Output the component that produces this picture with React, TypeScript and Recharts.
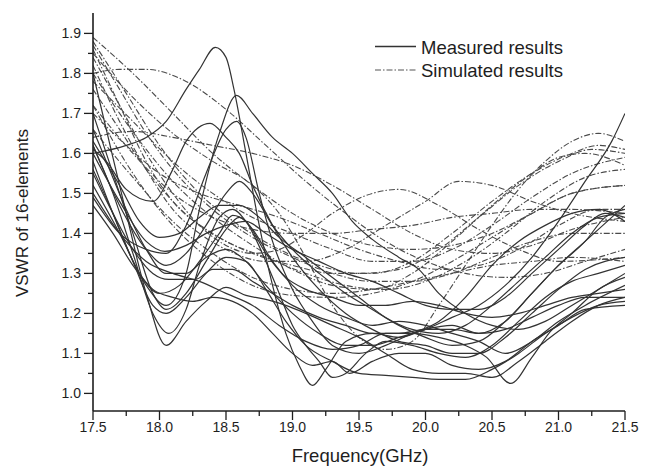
import React from 'react';
import { LineChart, Line, XAxis, YAxis, Customized } from 'recharts';

type Pt = [number, number];

// Measured VSWR curves: [frequency GHz, VSWR]
const measured01: Pt[] = [[17.5,1.60],[17.75,1.62],[17.9,1.64],[18.05,1.68],[18.2,1.76],[18.3,1.81],[18.42,1.865],[18.5,1.84],[18.56,1.76],[18.65,1.60],[18.75,1.42],[18.85,1.27],[18.95,1.15],[19.05,1.07],[19.15,1.02],[19.25,1.06],[19.4,1.13],[19.6,1.15],[19.8,1.14],[20.0,1.16],[20.2,1.17],[20.4,1.15],[20.6,1.18],[20.8,1.25],[21.0,1.32],[21.2,1.38],[21.35,1.44],[21.5,1.46]];
const measured02: Pt[] = [[17.5,1.52],[17.7,1.40],[17.9,1.27],[18.05,1.22],[18.2,1.30],[18.3,1.46],[18.45,1.65],[18.58,1.745],[18.7,1.70],[18.85,1.64],[19.0,1.60],[19.15,1.55],[19.3,1.50],[19.45,1.43],[19.6,1.385],[19.8,1.34],[19.95,1.31],[20.1,1.25],[20.3,1.20],[20.5,1.17],[20.7,1.16],[20.9,1.18],[21.1,1.22],[21.3,1.26],[21.5,1.30]];
const measured03: Pt[] = [[17.5,1.61],[17.6,1.58],[17.75,1.51],[17.95,1.48],[18.1,1.56],[18.2,1.63],[18.38,1.675],[18.5,1.64],[18.6,1.60],[18.7,1.52],[18.85,1.42],[19.0,1.34],[19.2,1.26],[19.4,1.20],[19.6,1.16],[19.8,1.13],[20.0,1.12],[20.2,1.10],[20.4,1.10],[20.6,1.14],[20.8,1.20],[21.0,1.26],[21.2,1.31],[21.5,1.34]];
const measured04: Pt[] = [[17.5,1.49],[17.7,1.40],[17.9,1.36],[18.05,1.35],[18.2,1.42],[18.35,1.55],[18.5,1.66],[18.58,1.68],[18.65,1.64],[18.75,1.50],[18.85,1.38],[19.0,1.26],[19.15,1.18],[19.3,1.12],[19.5,1.10],[19.7,1.12],[19.9,1.15],[20.1,1.18],[20.3,1.24],[20.5,1.32],[20.7,1.38],[20.9,1.42],[21.1,1.45],[21.3,1.46],[21.5,1.43]];
const measured05: Pt[] = [[17.5,1.80],[17.6,1.66],[17.75,1.45],[17.9,1.25],[18.05,1.12],[18.2,1.18],[18.35,1.23],[18.5,1.265],[18.65,1.245],[18.8,1.235],[18.95,1.22],[19.1,1.20],[19.3,1.17],[19.5,1.14],[19.7,1.10],[19.9,1.06],[20.1,1.05],[20.3,1.05],[20.5,1.04],[20.7,1.08],[20.9,1.13],[21.1,1.18],[21.3,1.22],[21.5,1.24]];
const measured06: Pt[] = [[17.5,1.62],[17.65,1.50],[17.8,1.35],[17.95,1.20],[18.07,1.15],[18.2,1.21],[18.3,1.32],[18.45,1.44],[18.55,1.46],[18.65,1.43],[18.8,1.33],[18.9,1.25],[19.0,1.17],[19.1,1.12],[19.2,1.08],[19.3,1.04],[19.4,1.05],[19.55,1.10],[19.7,1.13],[19.9,1.12],[20.1,1.10],[20.3,1.09],[20.5,1.12],[20.7,1.18],[20.9,1.24],[21.1,1.28],[21.3,1.30],[21.5,1.32]];
const measured07: Pt[] = [[17.5,1.70],[17.65,1.55],[17.8,1.40],[17.95,1.25],[18.05,1.21],[18.2,1.25],[18.35,1.33],[18.5,1.41],[18.6,1.44],[18.7,1.41],[18.85,1.33],[19.0,1.27],[19.2,1.22],[19.4,1.19],[19.6,1.17],[19.8,1.18],[20.0,1.17],[20.2,1.15],[20.4,1.13],[20.6,1.10],[20.8,1.13],[21.0,1.18],[21.2,1.22],[21.5,1.27]];
const measured08: Pt[] = [[17.5,1.58],[17.65,1.45],[17.85,1.30],[18.0,1.25],[18.15,1.27],[18.3,1.33],[18.45,1.40],[18.55,1.445],[18.65,1.43],[18.8,1.35],[18.95,1.29],[19.1,1.26],[19.3,1.24],[19.5,1.22],[19.7,1.22],[19.9,1.23],[20.1,1.22],[20.3,1.20],[20.5,1.19],[20.7,1.20],[20.9,1.22],[21.1,1.24],[21.3,1.25],[21.5,1.26]];
const measured09: Pt[] = [[17.5,1.55],[17.65,1.45],[17.8,1.36],[17.95,1.30],[18.07,1.285],[18.27,1.285],[18.4,1.31],[18.55,1.31],[18.7,1.28],[18.85,1.25],[19.0,1.22],[19.2,1.19],[19.4,1.17],[19.6,1.15],[19.8,1.15],[20.0,1.16],[20.2,1.16],[20.4,1.15],[20.6,1.16],[20.8,1.19],[21.0,1.22],[21.2,1.24],[21.5,1.24]];
const measured10: Pt[] = [[17.5,1.62],[17.7,1.47],[17.9,1.36],[18.05,1.32],[18.2,1.35],[18.35,1.42],[18.5,1.50],[18.6,1.53],[18.7,1.50],[18.85,1.42],[19.0,1.36],[19.2,1.30],[19.4,1.25],[19.6,1.21],[19.8,1.17],[20.0,1.14],[20.2,1.12],[20.4,1.13],[20.6,1.18],[20.8,1.25],[21.0,1.32],[21.2,1.38],[21.4,1.44],[21.5,1.47]];
const measured11: Pt[] = [[17.5,1.60],[17.7,1.48],[17.9,1.38],[18.04,1.355],[18.2,1.37],[18.35,1.40],[18.5,1.42],[18.65,1.43],[18.8,1.40],[19.0,1.36],[19.2,1.33],[19.4,1.30],[19.6,1.28],[19.8,1.25],[20.0,1.22],[20.2,1.21],[20.4,1.21],[20.6,1.24],[20.8,1.30],[21.0,1.36],[21.2,1.42],[21.35,1.45],[21.5,1.44]];
const measured12: Pt[] = [[17.5,1.63],[17.7,1.52],[17.85,1.43],[18.0,1.39],[18.15,1.40],[18.3,1.44],[18.45,1.47],[18.6,1.47],[18.75,1.44],[18.9,1.39],[19.1,1.34],[19.3,1.29],[19.5,1.24],[19.7,1.19],[19.9,1.16],[20.1,1.15],[20.3,1.17],[20.5,1.22],[20.7,1.28],[20.9,1.34],[21.1,1.40],[21.3,1.44],[21.5,1.45]];
const measured13: Pt[] = [[17.5,1.66],[17.6,1.58],[17.75,1.46],[17.9,1.36],[18.05,1.30],[18.2,1.30],[18.35,1.34],[18.5,1.36],[18.65,1.33],[18.8,1.27],[19.0,1.20],[19.2,1.15],[19.4,1.12],[19.6,1.12],[19.8,1.14],[20.0,1.16],[20.2,1.19],[20.4,1.22],[20.6,1.27],[20.8,1.34],[21.0,1.43],[21.2,1.53],[21.4,1.63],[21.5,1.70]];
const measured14: Pt[] = [[17.5,1.50],[17.7,1.40],[17.9,1.33],[18.1,1.30],[18.3,1.28],[18.5,1.25],[18.7,1.22],[18.9,1.17],[19.1,1.13],[19.3,1.11],[19.5,1.12],[19.7,1.15],[19.9,1.15],[20.1,1.14],[20.3,1.12],[20.46,1.09],[20.64,1.025],[20.8,1.09],[20.94,1.155],[21.1,1.20],[21.3,1.26],[21.5,1.29]];
const measured15: Pt[] = [[17.5,1.56],[17.65,1.45],[17.8,1.33],[17.95,1.22],[18.05,1.20],[18.2,1.24],[18.35,1.30],[18.5,1.34],[18.65,1.33],[18.8,1.26],[18.95,1.18],[19.1,1.12],[19.3,1.08],[19.5,1.05],[19.7,1.045],[19.9,1.04],[20.1,1.035],[20.3,1.035],[20.5,1.06],[20.7,1.10],[20.9,1.15],[21.1,1.19],[21.3,1.22],[21.5,1.23]];
const measured16: Pt[] = [[17.5,1.47],[17.65,1.40],[17.8,1.32],[17.95,1.26],[18.1,1.24],[18.25,1.23],[18.4,1.24],[18.55,1.23],[18.7,1.20],[18.85,1.15],[19.0,1.10],[19.15,1.07],[19.3,1.08],[19.43,1.05],[19.6,1.08],[19.8,1.10],[20.0,1.10],[20.2,1.07],[20.4,1.06],[20.6,1.08],[20.8,1.13],[21.0,1.17],[21.2,1.21],[21.5,1.22]];

// Simulated VSWR curves
const simulated01: Pt[] = [[17.5,1.89],[17.8,1.80],[18.1,1.70],[18.4,1.60],[18.7,1.52],[19.0,1.45],[19.3,1.40],[19.6,1.37],[19.9,1.36],[20.2,1.37],[20.5,1.40],[20.8,1.45],[21.1,1.50],[21.5,1.52]];
const simulated02: Pt[] = [[17.5,1.88],[17.75,1.75],[18.0,1.62],[18.3,1.50],[18.6,1.42],[18.9,1.36],[19.2,1.32],[19.5,1.30],[19.8,1.31],[20.1,1.36],[20.4,1.44],[20.7,1.52],[21.0,1.58],[21.25,1.61],[21.5,1.60]];
const simulated03: Pt[] = [[17.5,1.86],[17.7,1.72],[17.9,1.58],[18.1,1.48],[18.4,1.40],[18.7,1.35],[19.0,1.32],[19.3,1.30],[19.6,1.30],[19.9,1.33],[20.2,1.40],[20.5,1.48],[20.8,1.55],[21.1,1.60],[21.3,1.62],[21.5,1.61]];
const simulated04: Pt[] = [[17.5,1.80],[17.7,1.81],[17.9,1.81],[18.2,1.78],[18.5,1.71],[18.8,1.62],[19.1,1.53],[19.4,1.45],[19.7,1.38],[20.0,1.33],[20.3,1.30],[20.6,1.29],[20.9,1.30],[21.2,1.33],[21.5,1.36]];
const simulated05: Pt[] = [[17.5,1.78],[17.8,1.68],[18.1,1.58],[18.4,1.50],[18.7,1.44],[19.0,1.40],[19.3,1.36],[19.6,1.33],[19.9,1.33],[20.2,1.36],[20.5,1.42],[20.8,1.49],[21.1,1.55],[21.5,1.59]];
const simulated06: Pt[] = [[17.5,1.76],[17.7,1.66],[17.9,1.56],[18.1,1.48],[18.3,1.42],[18.5,1.38],[18.8,1.34],[19.1,1.30],[19.4,1.27],[19.7,1.26],[20.0,1.28],[20.3,1.33],[20.6,1.40],[20.9,1.48],[21.2,1.54],[21.5,1.56]];
const simulated07: Pt[] = [[17.5,1.70],[17.75,1.62],[18.0,1.55],[18.3,1.50],[18.6,1.47],[18.9,1.44],[19.2,1.40],[19.5,1.36],[19.8,1.33],[20.1,1.31],[20.4,1.32],[20.7,1.36],[21.0,1.42],[21.3,1.46],[21.5,1.46]];
const simulated08: Pt[] = [[17.5,1.64],[17.8,1.655],[18.1,1.64],[18.4,1.62],[18.7,1.60],[19.0,1.57],[19.3,1.52],[19.6,1.46],[19.9,1.40],[20.2,1.36],[20.5,1.35],[20.8,1.37],[21.1,1.41],[21.5,1.44]];
const simulated09: Pt[] = [[17.5,1.84],[17.7,1.72],[17.9,1.60],[18.1,1.50],[18.3,1.42],[18.5,1.37],[18.7,1.35],[18.9,1.36],[19.1,1.40],[19.3,1.45],[19.6,1.50],[19.8,1.51],[20.1,1.47],[20.4,1.41],[20.7,1.36],[21.0,1.33],[21.5,1.34]];
const simulated10: Pt[] = [[17.5,1.82],[17.7,1.68],[17.9,1.56],[18.1,1.46],[18.3,1.40],[18.5,1.36],[18.8,1.33],[19.1,1.33],[19.4,1.36],[19.7,1.42],[20.0,1.48],[20.25,1.53],[20.5,1.52],[20.8,1.48],[21.1,1.45],[21.5,1.43]];
const simulated11: Pt[] = [[17.5,1.85],[17.8,1.74],[18.1,1.65],[18.4,1.58],[18.7,1.52],[18.9,1.45],[19.1,1.34],[19.3,1.22],[19.5,1.14],[19.7,1.11],[19.9,1.13],[20.1,1.22],[20.3,1.32],[20.5,1.42],[20.7,1.51],[20.9,1.58],[21.1,1.63],[21.3,1.65],[21.5,1.63]];
const simulated12: Pt[] = [[17.5,1.72],[17.8,1.60],[18.1,1.50],[18.4,1.44],[18.7,1.41],[19.0,1.40],[19.3,1.40],[19.6,1.41],[19.9,1.42],[20.2,1.44],[20.5,1.45],[20.8,1.46],[21.1,1.46],[21.5,1.45]];
const simulated13: Pt[] = [[17.5,1.72],[17.8,1.55],[18.1,1.42],[18.4,1.33],[18.7,1.27],[19.0,1.245],[19.3,1.24],[19.6,1.25],[19.9,1.28],[20.2,1.33],[20.5,1.39],[20.8,1.45],[21.1,1.50],[21.5,1.52]];
const simulated14: Pt[] = [[17.5,1.87],[17.7,1.76],[17.9,1.65],[18.1,1.56],[18.4,1.46],[18.7,1.39],[19.0,1.34],[19.3,1.30],[19.6,1.28],[19.9,1.28],[20.2,1.30],[20.5,1.34],[20.8,1.38],[21.1,1.40],[21.5,1.40]];
const simulated15: Pt[] = [[17.5,1.80],[17.7,1.70],[17.9,1.61],[18.1,1.53],[18.4,1.44],[18.7,1.37],[19.0,1.31],[19.3,1.27],[19.6,1.26],[19.9,1.30],[20.2,1.38],[20.5,1.47],[20.8,1.55],[21.0,1.59],[21.2,1.60],[21.5,1.57]];
const simulated16: Pt[] = [[17.5,1.66],[17.8,1.54],[18.1,1.43],[18.4,1.35],[18.7,1.29],[19.0,1.26],[19.3,1.25],[19.6,1.26],[19.9,1.28],[20.2,1.30],[20.5,1.32],[20.8,1.33],[21.1,1.34],[21.5,1.33]];

const measuredSeries = [measured01, measured02, measured03, measured04, measured05, measured06, measured07, measured08, measured09, measured10, measured11, measured12, measured13, measured14, measured15, measured16];
const simulatedSeries = [simulated01, simulated02, simulated03, simulated04, simulated05, simulated06, simulated07, simulated08, simulated09, simulated10, simulated11, simulated12, simulated13, simulated14, simulated15, simulated16];

const xTicks = [17.5, 17.75, 18.0, 18.25, 18.5, 18.75, 19.0, 19.25, 19.5, 19.75, 20.0, 20.25, 20.5, 20.75, 21.0, 21.25, 21.5];
const yTicks = [1.0, 1.05, 1.1, 1.15, 1.2, 1.25, 1.3, 1.35, 1.4, 1.45, 1.5, 1.55, 1.6, 1.65, 1.7, 1.75, 1.8, 1.85, 1.9];

const xTitle = 'Frequency(GHz)';
const yTitle = 'VSWR of 16-elements';
const legendMeasured = 'Measured results';
const legendSimulated = 'Simulated results';

const FONT = '"Liberation Sans", Arial, Helvetica, sans-serif';
const INK = '#1e1e1e';
const DASH = '6 2 1.5 2';

const toRows = (pts: Pt[]) => pts.map(([f, v]) => ({ f, v }));

const XTick = (props: any) => {
  const { x, y, payload } = props;
  const v = payload.value as number;
  const major = Math.abs(v * 2 - Math.round(v * 2)) < 1e-6;
  return (
    <g>
      <line x1={x} x2={x} y1={y} y2={y + (major ? 9 : 5)} stroke={INK} strokeWidth={1.3} />
      {major && (
        <text x={x} y={y + 21} textAnchor="middle" fontFamily={FONT} fontSize={14} fill={INK}>
          {v.toFixed(1)}
        </text>
      )}
    </g>
  );
};

const YTick = (props: any) => {
  const { x, y, payload } = props;
  const v = payload.value as number;
  const major = Math.abs(v * 10 - Math.round(v * 10)) < 1e-6;
  return (
    <g>
      <line x1={x} x2={x - (major ? 9 : 5)} y1={y} y2={y} stroke={INK} strokeWidth={1.3} />
      {major && (
        <text x={x - 12} y={y + 5} textAnchor="end" fontFamily={FONT} fontSize={14} fill={INK}>
          {v.toFixed(1)}
        </text>
      )}
    </g>
  );
};

const Decorations = () => (
  <g>
    <text x={0} y={0} transform="translate(28,213) rotate(-90)" textAnchor="middle" fontFamily={FONT} fontSize={17} fill={INK}>
      {yTitle}
    </text>
    <text x={360} y={462} textAnchor="middle" fontFamily={FONT} fontSize={18.5} fill={INK}>
      {xTitle}
    </text>
    <line x1={375} x2={416} y1={46.5} y2={46.5} stroke="#333" strokeWidth={1.3} />
    <text x={421} y={53.5} fontFamily={FONT} fontSize={18.5} fill={INK}>
      {legendMeasured}
    </text>
    <line x1={375} x2={416} y1={70} y2={70} stroke="#555" strokeWidth={1.1} strokeDasharray={DASH} />
    <text x={421} y={77} fontFamily={FONT} fontSize={18.5} fill={INK}>
      {legendSimulated}
    </text>
  </g>
);

export default function App() {
  return (
    <div style={{ position: 'absolute', left: 0, top: 0, width: 652, height: 469, background: '#fff' }}>
      <LineChart width={652} height={469} margin={{ top: 13, right: 27, bottom: 0, left: 0 }}>
        <XAxis
          xAxisId="main"
          type="number"
          dataKey="f"
          domain={[17.5, 21.5]}
          ticks={xTicks}
          interval={0}
          allowDataOverflow
          height={58}
          tickSize={0}
          tickMargin={0}
          tickLine={false}
          axisLine={{ stroke: INK, strokeWidth: 1.6 }}
          tick={(p: any) => <XTick {...p} />}
        />
        <XAxis
          xAxisId="top"
          orientation="top"
          type="number"
          domain={[17.5, 21.5]}
          height={0}
          tick={false}
          tickLine={false}
          axisLine={{ stroke: INK, strokeWidth: 1.6 }}
        />
        <YAxis
          yAxisId="main"
          type="number"
          domain={[0.956, 1.951]}
          ticks={yTicks}
          interval={0}
          allowDataOverflow
          width={93}
          tickSize={0}
          tickMargin={0}
          tickLine={false}
          axisLine={{ stroke: INK, strokeWidth: 1.6 }}
          tick={(p: any) => <YTick {...p} />}
        />
        <YAxis
          yAxisId="right"
          orientation="right"
          type="number"
          domain={[0.956, 1.951]}
          width={0}
          tick={false}
          tickLine={false}
          axisLine={{ stroke: INK, strokeWidth: 1.6 }}
        />
        {simulatedSeries.map((s, i) => (
          <Line
            key={'s' + i}
            xAxisId="main"
            yAxisId="main"
            data={toRows(s)}
            dataKey="v"
            type="monotone"
            stroke="#4a4a4a"
            strokeWidth={1.1}
            strokeDasharray={DASH}
            dot={false}
            activeDot={false}
            isAnimationActive={false}
          />
        ))}
        {measuredSeries.map((s, i) => (
          <Line
            key={'m' + i}
            xAxisId="main"
            yAxisId="main"
            data={toRows(s)}
            dataKey="v"
            type="monotone"
            stroke="#333"
            strokeWidth={1.2}
            dot={false}
            activeDot={false}
            isAnimationActive={false}
          />
        ))}
        <Customized component={Decorations} />
      </LineChart>
    </div>
  );
}
